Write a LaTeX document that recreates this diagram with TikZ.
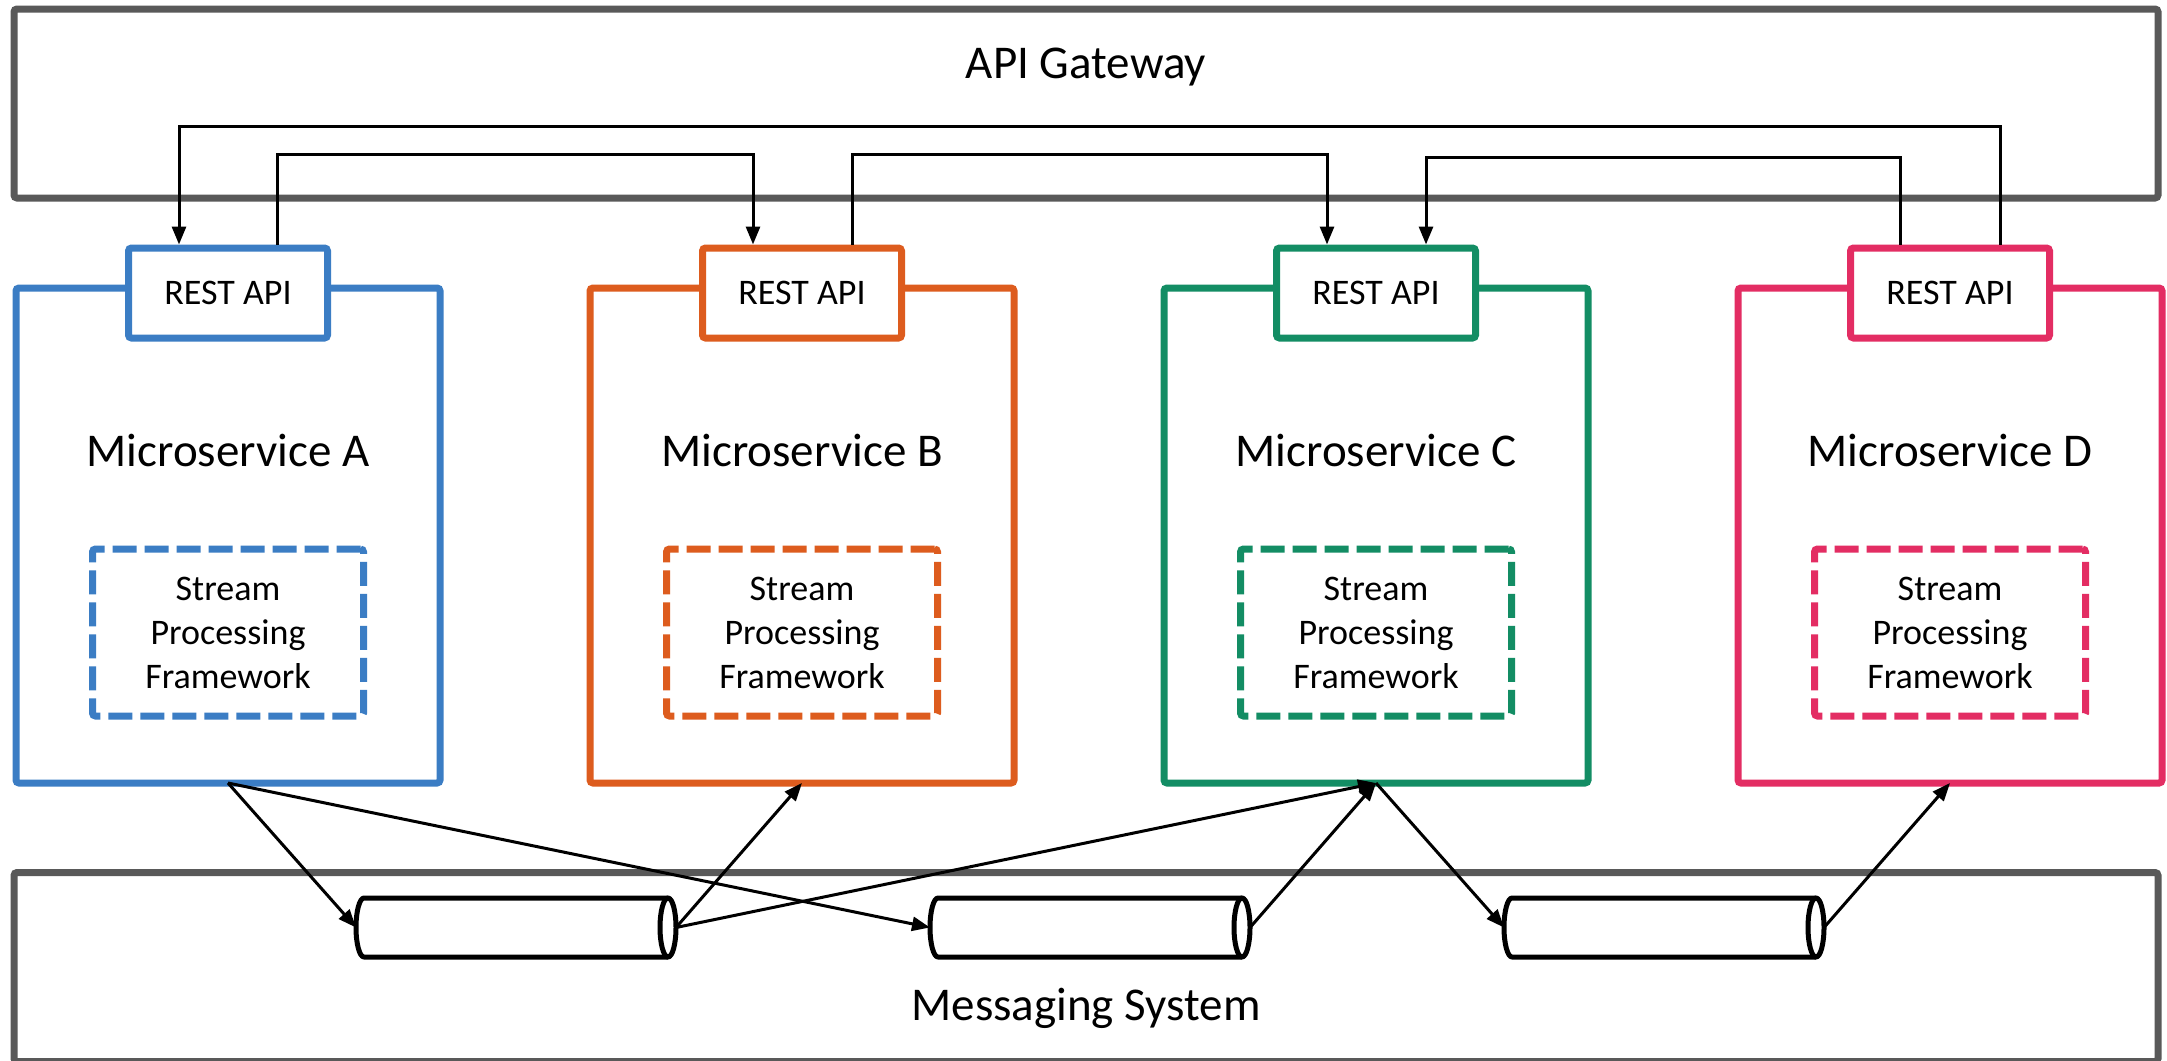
\documentclass[tikz,border=0pt]{standalone}
\usepackage{fontspec}
\setmainfont{Carlito}
\usetikzlibrary{arrows.meta,calc}
\definecolor{framegray}{HTML}{595959}
\definecolor{svcblue}{HTML}{3B7DC4}
\definecolor{svcorange}{HTML}{DD5C1E}
\definecolor{svcgreen}{HTML}{138D64}
\definecolor{svcpink}{HTML}{E32D63}

% outline of a horizontal message queue drawn around a slot node
\newcommand{\drawqueue}[1]{%
  \draw[queueline, fill=white] ($(#1.north east)+(-8,0)$) -- ($(#1.north west)+(8,0)$)
    arc[start angle=270, end angle=90, x radius=8, y radius=29.5]
    -- ($(#1.south east)+(-8,0)$);
  \draw[queueline, fill=white] ($(#1.east)+(-8,0)$) ellipse [x radius=8, y radius=29.5];
}

\begin{document}
\begin{tikzpicture}[x=0.5pt, y=-0.5pt,
  frame/.style={draw=framegray, line width=3.5pt, rounded corners=1.5pt, fill=white,
    minimum width=1072pt, minimum height=94.5pt, inner sep=0pt, outer sep=0pt},
  svc/.style={draw=#1, line width=3.5pt, rounded corners=1.5pt, fill=white,
    minimum width=212pt, minimum height=247.5pt, inner sep=0pt, outer sep=0pt},
  rest/.style={draw=#1, line width=3.5pt, rounded corners=1.5pt, fill=white,
    minimum width=99.5pt, minimum height=45pt, inner sep=0pt,
    font=\fontsize{18}{22}\selectfont},
  spf/.style={draw=#1, line width=3.5pt, dash pattern=on 12pt off 4pt, rounded corners=1.5pt,
    minimum width=135.5pt, minimum height=83.5pt, inner sep=0pt, align=center,
    font=\fontsize{18}{22}\selectfont},
  biglabel/.style={font=\fontsize{23.5}{28}\selectfont, inner sep=0pt},
  slot/.style={minimum width=160pt, minimum height=29.5pt, inner sep=0pt, outer sep=0pt},
  queueline/.style={draw=black, line width=2.5pt, line join=round},
  flow/.style={draw=black, line width=1.5pt, -{Triangle[length=9pt,width=7pt]}},
]
\useasboundingbox[fill=white] (0,0) rectangle (2167,1060);

% gateway and messaging layers
\node[frame] (gateway) at (1086,103.5) {};
\node[biglabel] (gwlabel) at (1086,67) {API Gateway};
\node[frame] (msgsys) at (1086,967) {};
\node[biglabel] (msglabel) at (1086,1008) {Messaging System};

% microservices
\foreach \id/\cx/\col in {A/228/svcblue, B/802/svcorange, C/1376/svcgreen, D/1950/svcpink}{
  \node[svc=\col] (svc\id) at (\cx,535.5) {};
  \node[rest=\col] (rest\id) at (\cx,293) {REST API};
  \node[biglabel] (name\id) at (\cx,450) {Microservice \id};
  \node[spf=\col] (spf\id) at (\cx,632.5) {Stream\\Processing\\Framework};
}

% queues
\node[slot] (q1) at (516,927.5) {};
\node[slot] (q2) at (1090,927.5) {};
\node[slot] (q3) at (1664,927.5) {};
\drawqueue{q1}
\drawqueue{q2}
\drawqueue{q3}

% REST calls through the gateway
\draw[flow] ($(restD.north)+(50,0)$) -- ++(0,-118.5) -| ($(restA.north)+(-49,0)$);
\draw[flow] ($(restA.north)+(49,0)$) -- ++(0,-90.5) -| ($(restB.north)+(-49,0)$);
\draw[flow] ($(restB.north)+(50,0)$) -- ++(0,-90.5) -| ($(restC.north)+(-49,0)$);
\draw[flow] ($(restD.north)+(-50,0)$) -- ++(0,-87.5) -| ($(restC.north)+(50,0)$);

% event streams through the queues
\draw[flow] (svcA.south) -- (q1.west);
\draw[flow] (svcA.south) -- (q2.west);
\draw[flow] (q1.east) -- (svcB.south);
\draw[flow] (q1.east) -- (svcC.south);
\draw[flow] (q2.east) -- (svcC.south);
\draw[flow] (svcC.south) -- (q3.west);
\draw[flow] (q3.east) -- (svcD.south);
\end{tikzpicture}
\end{document}
